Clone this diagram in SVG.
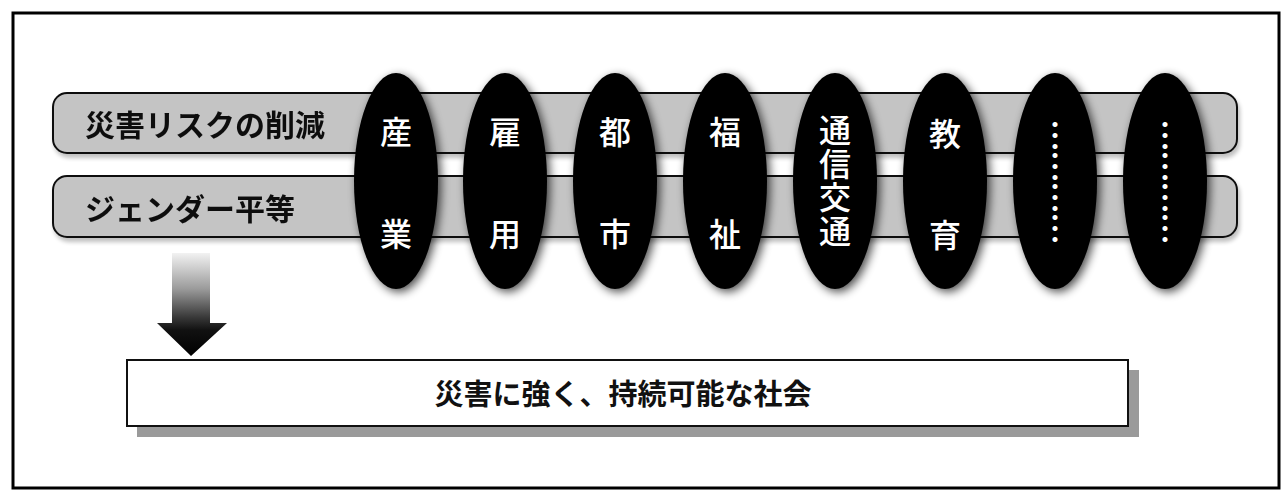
<svg xmlns="http://www.w3.org/2000/svg" width="1282" height="494" viewBox="0 0 1282 494">
  <style>
    .frame { fill: #ffffff; stroke: #000000; stroke-width: 3; }
    .bar { fill: #c4c4c4; stroke: #111111; stroke-width: 2; }
    .bartxt { font-family: "Noto Sans CJK JP", "Noto Sans", sans-serif; font-size: 30px; font-weight: 700; fill: #111111; }
    .oval { fill: #000000; }
    .ovtxt { font-family: "Noto Sans CJK JP", "Noto Sans", sans-serif; font-size: 32px; font-weight: 500; fill: #ffffff; text-anchor: middle; }
    .vtxt { font-family: "Noto Sans CJK JP", "Noto Sans", sans-serif; font-size: 32px; font-weight: 500; fill: #ffffff; text-anchor: middle; writing-mode: vertical-rl; letter-spacing: 1.5px; }
    .vdots { font-family: "Noto Sans CJK JP", "Noto Sans", sans-serif; font-size: 31px; font-weight: 700; fill: #ffffff; text-anchor: middle; writing-mode: vertical-rl; }
    .box { fill: #ffffff; stroke: #111111; stroke-width: 2; }
    .boxshadow { fill: #9a9a9a; }
    .boxtxt { font-family: "Noto Sans CJK JP", "Noto Sans", sans-serif; font-size: 29px; font-weight: 700; fill: #111111; text-anchor: middle; }
  </style>
  <defs>
    <filter id="halo" x="-40%" y="-20%" width="180%" height="140%">
      <feGaussianBlur in="SourceAlpha" stdDeviation="5"/>
      <feOffset dx="3" dy="3" result="b"/>
      <feComponentTransfer in="b" result="s">
        <feFuncA type="linear" slope="0.7"/>
      </feComponentTransfer>
      <feMerge>
        <feMergeNode in="s"/>
        <feMergeNode in="SourceGraphic"/>
      </feMerge>
    </filter>
    <filter id="barshadow" x="-5%" y="-20%" width="110%" height="150%">
      <feGaussianBlur in="SourceAlpha" stdDeviation="2"/>
      <feOffset dx="2" dy="4" result="b"/>
      <feComponentTransfer in="b" result="s">
        <feFuncA type="linear" slope="0.25"/>
      </feComponentTransfer>
      <feMerge>
        <feMergeNode in="s"/>
        <feMergeNode in="SourceGraphic"/>
      </feMerge>
    </filter>
    <linearGradient id="arrowGrad" gradientUnits="userSpaceOnUse" x1="0" y1="253" x2="0" y2="356">
      <stop offset="0" stop-color="#f2f2f2"/>
      <stop offset="0.35" stop-color="#9a9a9a"/>
      <stop offset="0.62" stop-color="#3a3a3a"/>
      <stop offset="0.75" stop-color="#111111"/>
      <stop offset="1" stop-color="#000000"/>
    </linearGradient>
  </defs>

  <rect class="frame" x="13" y="13" width="1266" height="475"/>

  <g id="bar-risk" filter="url(#barshadow)">
    <rect class="bar" x="53" y="93" width="1184" height="60" rx="14" ry="14"/>
    <text class="bartxt" x="85" y="123" dominant-baseline="central">災害リスクの削減</text>
  </g>
  <g id="bar-gender" filter="url(#barshadow)">
    <rect class="bar" x="53" y="176" width="1184" height="61" rx="14" ry="14"/>
    <text class="bartxt" x="85" y="207" dominant-baseline="central">ジェンダー平等</text>
  </g>

  <g id="oval-sangyo">
    <ellipse class="oval" cx="396" cy="181" rx="42" ry="108" filter="url(#halo)"/>
    <text class="ovtxt" x="396" y="130" dominant-baseline="central">産</text>
    <text class="ovtxt" x="396" y="232" dominant-baseline="central">業</text>
  </g>
  <g id="oval-koyo">
    <ellipse class="oval" cx="505" cy="181" rx="42" ry="108" filter="url(#halo)"/>
    <text class="ovtxt" x="505" y="130" dominant-baseline="central">雇</text>
    <text class="ovtxt" x="505" y="232" dominant-baseline="central">用</text>
  </g>
  <g id="oval-toshi">
    <ellipse class="oval" cx="615" cy="181" rx="42" ry="108" filter="url(#halo)"/>
    <text class="ovtxt" x="615" y="130" dominant-baseline="central">都</text>
    <text class="ovtxt" x="615" y="232" dominant-baseline="central">市</text>
  </g>
  <g id="oval-fukushi">
    <ellipse class="oval" cx="725" cy="181" rx="42" ry="108" filter="url(#halo)"/>
    <text class="ovtxt" x="725" y="130" dominant-baseline="central">福</text>
    <text class="ovtxt" x="725" y="232" dominant-baseline="central">祉</text>
  </g>
  <g id="oval-tsushin">
    <ellipse class="oval" cx="835" cy="181" rx="42" ry="108" filter="url(#halo)"/>
    <text class="vtxt" x="835" y="181">通信交通</text>
  </g>
  <g id="oval-kyoiku">
    <ellipse class="oval" cx="945" cy="181" rx="42" ry="108" filter="url(#halo)"/>
    <text class="ovtxt" x="945" y="132" dominant-baseline="central">教</text>
    <text class="ovtxt" x="945" y="233" dominant-baseline="central">育</text>
  </g>
  <g id="oval-etc1">
    <ellipse class="oval" cx="1055" cy="181" rx="42" ry="108" filter="url(#halo)"/>
    <text class="vdots" x="1055" y="182">︙︙︙︙</text>
  </g>
  <g id="oval-etc2">
    <ellipse class="oval" cx="1165" cy="181" rx="42" ry="108" filter="url(#halo)"/>
    <text class="vdots" x="1165" y="182">︙︙︙︙</text>
  </g>

  <g id="connectors">
    <path d="M172,253 L210,253 L210,323 L227,323 L191,356 L157,323 L172,323 Z" fill="url(#arrowGrad)"/>
  </g>

  <g id="goal-box">
    <rect class="boxshadow" x="137" y="370" width="1002" height="67"/>
    <rect class="box" x="127" y="360" width="1001" height="66"/>
    <text class="boxtxt" x="623" y="392" dominant-baseline="central">災害に強く、持続可能な社会</text>
  </g>
</svg>
